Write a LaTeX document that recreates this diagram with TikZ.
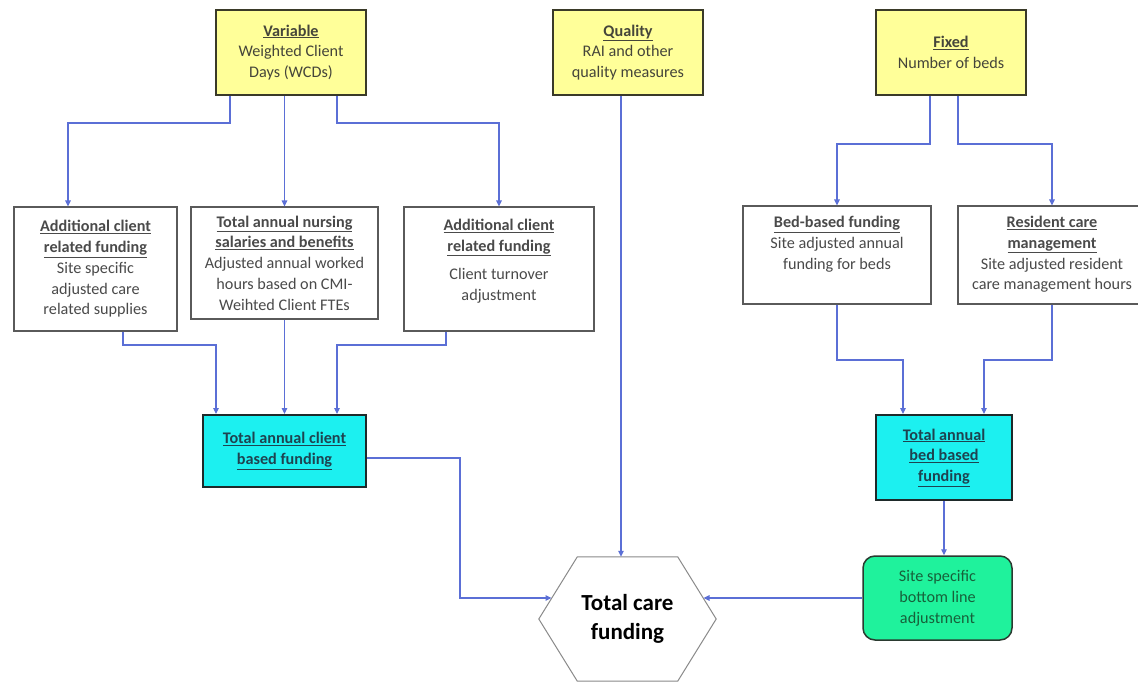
\documentclass[tikz,border=0pt]{standalone}
\usepackage{fontspec}
\setmainfont{Carlito}
\usetikzlibrary{arrows.meta,calc}
\definecolor{conncol}{HTML}{5B6FD6}
\definecolor{yfill}{HTML}{FFFF99}
\definecolor{ybord}{HTML}{3A3A28}
\definecolor{ytext}{HTML}{45453A}
\definecolor{wbord}{HTML}{5A5A5A}
\definecolor{btext}{HTML}{4A4A4A}
\definecolor{cfill}{HTML}{1CF0F0}
\definecolor{cbord}{HTML}{1E2A2A}
\definecolor{ctext}{HTML}{1E4350}
\definecolor{gfill}{HTML}{1FF29C}
\definecolor{gbord}{HTML}{2A3A30}
\definecolor{gtext}{HTML}{17603A}
\definecolor{hexbord}{HTML}{8A8A8A}
\newcommand{\ttl}[1]{\underline{\textbf{#1}}}
\begin{document}
\begin{tikzpicture}[x=1pt,y=-1pt,
  font=\fontsize{16.2}{20.8}\selectfont,
  ybox/.style={draw=ybord, line width=2.5pt, fill=yfill, minimum width=150pt,
    minimum height=85pt, inner sep=0pt, align=center, text=ytext},
  wbox/.style={draw=wbord, line width=1.1pt, fill=white, inner sep=0pt, text=btext},
  cbox/.style={draw=cbord, line width=2pt, fill=cfill, inner sep=0pt, align=center, text=ctext},
  gbox/.style={draw=gbord, line width=1.5pt, fill=gfill, inner sep=0pt, align=center,
    text=gtext, rounded corners=12pt},
  link/.style={draw=conncol, line width=1.1pt, -{Triangle[length=6pt,width=5.5pt]}},
]
\useasboundingbox (0,0) rectangle (1138,682);
\fill[white] (0,0) rectangle (1138,682);
\clip (0,0) rectangle (1138,682);

% top row
\node[ybox] (var) at (291,52.5) {\ttl{Variable}\\Weighted Client\\Days (WCDs)};
\node[ybox] (qual) at (628,52.5) {\ttl{Quality}\\RAI and other\\quality measures};
\node[ybox] (fix) at (951,52.5) {\ttl{Fixed}\\Number of beds};

% second row
\node[wbox, minimum width=163pt, minimum height=124pt, align=center] (b1) at (95.5,269)
  {\ttl{Additional client}\\\ttl{related funding}\\Site specific\\adjusted care\\related supplies};
\node[wbox, minimum width=187pt, minimum height=112pt, align=center] (b2) at (284.5,263)
  {\ttl{Total annual nursing}\\\ttl{salaries and benefits}\\Adjusted annual worked\\hours based on CMI-\\Weihted Client FTEs};
\node[wbox] (b3) at (499,269)
  {\parbox[c][124pt][t]{190pt}{\centering\vspace*{9pt}\strut\ttl{Additional client}\\\ttl{related funding}\\[7.5pt]Client turnover\\adjustment}};
\node[wbox] (bed) at (837,255)
  {\parbox[c][98pt][t]{188pt}{\centering\vspace*{7pt}\strut\ttl{Bed-based funding}\\Site adjusted annual\\funding for beds}};
\node[wbox] (res) at (1052,255)
  {\parbox[c][98pt][t]{188pt}{\centering\vspace*{7pt}\strut\ttl{Resident care}\\\ttl{management}\\Site adjusted resident\\care management hours}};

% totals
\node[cbox, minimum width=163pt, minimum height=72pt] (cc) at (284.5,451)
  {\ttl{Total annual client}\\\ttl{based funding}};
\node[cbox, minimum width=136pt, minimum height=85pt] (cb) at (944,457.5)
  {\ttl{Total annual}\\\ttl{bed based}\\\ttl{funding}};
\node[gbox, minimum width=149pt, minimum height=84pt] (gr) at (937.5,598)
  {Site specific\\bottom line\\adjustment};

% hexagon
\node[minimum width=177pt, minimum height=124pt, inner sep=0pt, align=center,
  font=\fontsize{23}{28.5}\selectfont\bfseries, text=black] (hex) at (627.5,619) {Total care\\funding};
\draw[hexbord, line width=1pt] (hex.west) -- ([xshift=38.5pt]hex.north west)
  -- ([xshift=-38.5pt]hex.north east) -- (hex.east)
  -- ([xshift=-38.5pt]hex.south east) -- ([xshift=38.5pt]hex.south west) -- cycle;

% helper coordinates
\coordinate (v1a) at (230,123);
\coordinate (v1b) at (68,123);
\coordinate (v3a) at (337,123);
\coordinate (v3b) at (499,123);
\coordinate (c1a) at (123,345);
\coordinate (c1b) at (216,345);
\coordinate (c3a) at (446,345);
\coordinate (c3b) at (337,345);
\coordinate (h1) at (460,458);
\coordinate (h2) at (460,598);
\coordinate (hexL) at (551.5,598);
\coordinate (hexR) at (703.5,598);
\coordinate (qx) at (621,0);
\coordinate (f1a) at (930,144);
\coordinate (f1b) at (837,144);
\coordinate (f2a) at (958,144);
\coordinate (f2b) at (1052,144);
\coordinate (d1a) at (837,360);
\coordinate (d1b) at (903,360);
\coordinate (d2a) at (1052,360);
\coordinate (d2b) at (984,360);

% connectors from Variable
\draw[link] (var.south -| v1a) -- (v1a) -- (v1b) -- (b1.north -| v1b);
\draw[link] (var.south -| b2.north) -- (b2.north);
\draw[link] (var.south -| v3a) -- (v3a) -- (v3b) -- (b3.north);

% into client total
\draw[link] (b1.south -| c1a) -- (c1a) -- (c1b) -- (cc.north -| c1b);
\draw[link] (b2.south) -- (cc.north -| b2.south);
\draw[link] (b3.south -| c3a) -- (c3a) -- (c3b) -- (cc.north -| c3b);

% client total to hexagon
\draw[link] (cc.east |- h1) -- (h1) -- (h2) -- (hexL);

% quality to hexagon
\draw[link] (qual.south -| qx) -- (hex.north -| qx);

% fixed
\draw[link] (fix.south -| f1a) -- (f1a) -- (f1b) -- (bed.north);
\draw[link] (fix.south -| f2a) -- (f2a) -- (f2b) -- (res.north);

% into bed total
\draw[link] (bed.south) -- (d1a) -- (d1b) -- (cb.north -| d1b);
\draw[link] (res.south) -- (d2a) -- (d2b) -- (cb.north -| d2b);

% bed total to green, green to hexagon
\draw[link] (cb.south) -- (gr.north -| cb.south);
\draw[link] (gr.west) -- (hexR);
\end{tikzpicture}
\end{document}
